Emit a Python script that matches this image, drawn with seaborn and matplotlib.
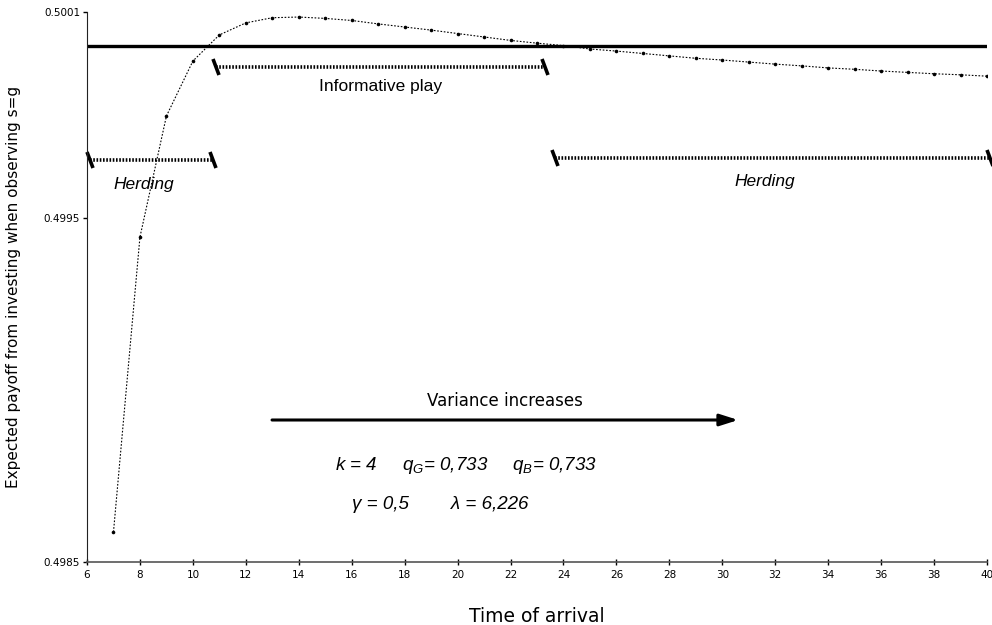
import matplotlib
matplotlib.use('Agg')
import matplotlib.pyplot as plt  # noqa: E402
import pandas as pd  # noqa: E402
import seaborn as sns  # noqa: E402
from matplotlib.markers import MarkerStyle  # noqa: E402
from matplotlib.transforms import Affine2D  # noqa: E402

# Expected payoff per arrival time.
TIMES = list(range(7, 41))
PAYOFF = [0.498587, 0.499445, 0.499797, 0.499957, 0.500033, 0.500068, 0.500083,
          0.500085, 0.500081, 0.500075, 0.500065, 0.500056, 0.500047, 0.500037,
          0.500027, 0.500017, 0.500009, 0.500002, 0.499992, 0.499986, 0.499979,
          0.499972, 0.499965, 0.499960, 0.499954, 0.499948, 0.499943, 0.499937,
          0.499933, 0.499928, 0.499924, 0.499920, 0.499917, 0.499913]
THRESHOLD = 0.5

# (label, x_start, x_end, y_bar, label_y, italic)
REGIONS = [
    ('Herding',          6.1,  10.76, 0.499669, 0.499597, True),
    ('Informative play', 10.87, 23.3, 0.499940, 0.499882, False),
    ('Herding',          23.68, 40.1, 0.499675, 0.499608, True),
]

XTICKS = list(range(6, 41, 2))
YTICKS = [0.4985, 0.4995, 0.5001]
YTICK_LABELS = ['0.4985', '0.4995', '0.5001']

sns.set_style('ticks', rc={'text.color': 'black', 'axes.labelcolor': 'black',
                           'xtick.color': 'black', 'ytick.color': 'black'})
plt.rcParams['font.family'] = ['DejaVu Sans']
plt.rcParams['mathtext.fontset'] = 'custom'
plt.rcParams['mathtext.it'] = 'Liberation Sans:italic'
plt.rcParams['mathtext.rm'] = 'Liberation Sans:italic'

fig = plt.figure(figsize=(9.92, 6.25), dpi=100)
ax = fig.add_axes([0.0877, 0.1008, 0.9073, 0.8802])

df = pd.DataFrame({'t': TIMES, 'payoff': PAYOFF})
sns.lineplot(data=df, x='t', y='payoff', ax=ax, color='black', lw=0.8,
             linestyle=(0, (1.5, 1.5)), marker='o', markersize=2.6,
             markeredgewidth=0)
ax.axhline(THRESHOLD, color='black', lw=2.4, zorder=1)

# region brackets with slanted end caps
cap = MarkerStyle('|', transform=Affine2D().rotate_deg(20))
for label, x0, x1, yb, yl, italic in REGIONS:
    ax.plot([x0, x1], [yb, yb], color='black', lw=2.6, linestyle=(0, (0.45, 0.45)),
            solid_capstyle='butt', clip_on=False)
    ax.plot([x0, x1], [yb, yb], linestyle='none', marker=cap, markersize=12,
            markeredgewidth=2.6, color='black', clip_on=False)
    ax.text((x0 + x1) / 2 - (0.3 if italic else 0), yl, label,
            ha='center', va='center', fontsize=12.5,
            family=['Liberation Sans', 'DejaVu Sans'],
            style='italic' if italic else 'normal')

ax.annotate('', xy=(30.6, 0.498913), xytext=(12.99, 0.498913),
            arrowprops=dict(arrowstyle='-|>,head_length=1.1,head_width=0.35',
                            color='black', lw=2.2, shrinkA=0, shrinkB=0))
ax.text(21.8, 0.498968, 'Variance increases', ha='center', va='center',
        fontsize=12)

ax.text(20.3, 0.498782,
        r'$k$ = 4     $q_G$= 0,733     $q_B$= 0,733',
        ha='center', va='center', fontsize=13.5, style='italic',
        family=['Liberation Sans', 'DejaVu Sans'])
ax.text(19.35, 0.498666, 'γ = 0,5        λ = 6,226',
        ha='center', va='center', fontsize=13.5, style='italic',
        family=['Liberation Sans', 'DejaVu Sans'])

ax.set_xlim(6, 40)
ax.set_ylim(0.4985, 0.5001)
ax.set_xticks(XTICKS)
ax.set_yticks(YTICKS)
ax.set_yticklabels(YTICK_LABELS)
ax.tick_params(axis='both', labelsize=7.5, length=3, width=1, pad=2)
ax.tick_params(axis='x', direction='inout', length=5, pad=3)
for s in ('top', 'right'):
    ax.spines[s].set_visible(False)
ax.spines['bottom'].set_color('#555555')
ax.spines['bottom'].set_linewidth(1.2)
ax.spines['left'].set_color('#222222')

ax.set_xlabel('Time of arrival', fontsize=13.5, labelpad=20)
ax.set_ylabel('Expected payoff from investing when observing s=g',
              fontsize=11, labelpad=16)

fig.savefig('out.png', dpi=100)
